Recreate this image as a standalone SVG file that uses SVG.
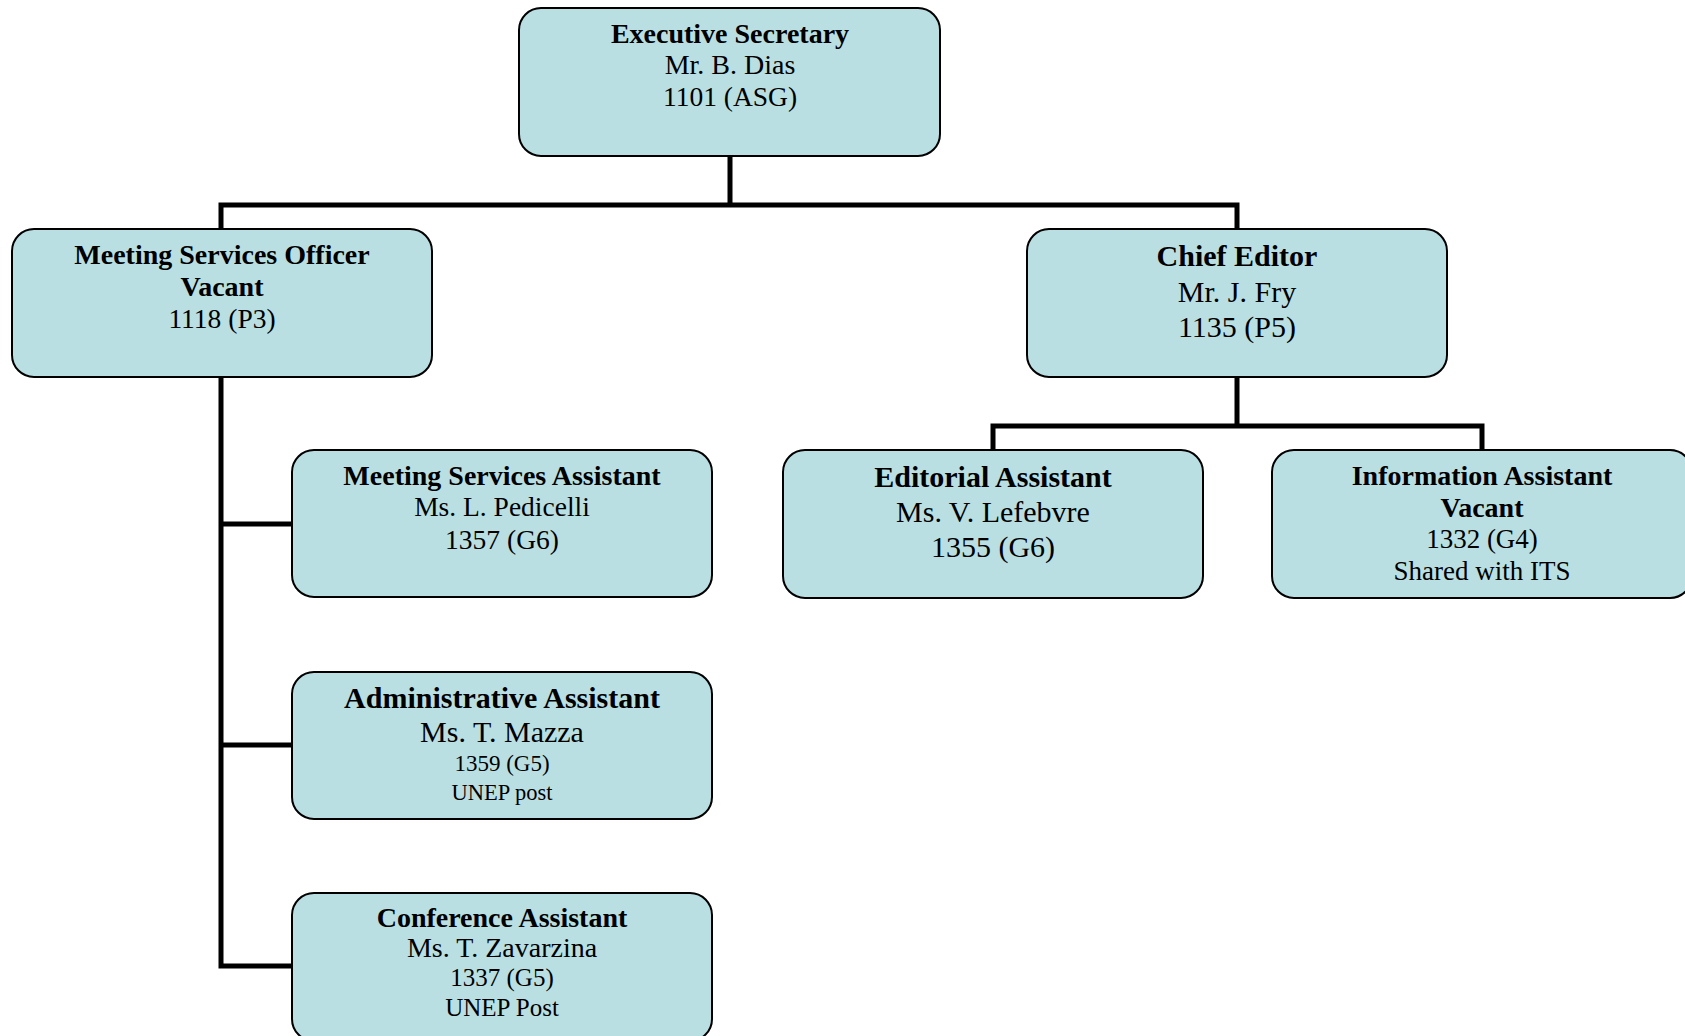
<svg xmlns="http://www.w3.org/2000/svg" width="1685" height="1036" viewBox="0 0 1685 1036">
<style>
.box{fill:#B9DFE3;stroke:#000;stroke-width:2}
.conn{fill:none;stroke:#000;stroke-width:5;stroke-linecap:square}
text{font-family:"Liberation Serif","Times New Roman",serif;fill:#000;text-anchor:middle}
.b{font-weight:bold}
</style>
<rect width="1685" height="1036" fill="#fff"/>
<g id="connectors">
<path class="conn" d="M730 156V205M221 205H1237M221 205V229M1237 205V229"/>
<path class="conn" d="M221 377V966M221 524H292M221 745H292M221 966H292"/>
<path class="conn" d="M1237 377V426M993 426H1482M993 426V450M1482 426V450"/>
</g>
<g id="exec">
<rect class="box" x="519" y="8" width="421" height="148" rx="22"/>
<text x="730" y="43" font-size="28" class="b">Executive Secretary</text>
<text x="730" y="74" font-size="28">Mr. B. Dias</text>
<text x="730" y="106" font-size="27.5">1101 (ASG)</text>
</g>
<g id="mso">
<rect class="box" x="12" y="229" width="420" height="148" rx="22"/>
<text x="222" y="264" font-size="28" class="b">Meeting Services Officer</text>
<text x="222" y="296" font-size="28" class="b">Vacant</text>
<text x="222" y="328" font-size="27.5">1118 (P3)</text>
</g>
<g id="chief">
<rect class="box" x="1027" y="229" width="420" height="148" rx="22"/>
<text x="1237" y="266" font-size="30" class="b">Chief Editor</text>
<text x="1237" y="302" font-size="30">Mr. J. Fry</text>
<text x="1237" y="337" font-size="30">1135 (P5)</text>
</g>
<g id="msa">
<rect class="box" x="292" y="450" width="420" height="147" rx="22"/>
<text x="502" y="485" font-size="28" class="b">Meeting Services Assistant</text>
<text x="502" y="516" font-size="27.5">Ms. L. Pedicelli</text>
<text x="502" y="549" font-size="27.5">1357 (G6)</text>
</g>
<g id="editorial">
<rect class="box" x="783" y="450" width="420" height="148" rx="22"/>
<text x="993" y="487" font-size="30" class="b">Editorial Assistant</text>
<text x="993" y="522" font-size="30">Ms. V. Lefebvre</text>
<text x="993" y="557" font-size="30">1355 (G6)</text>
</g>
<g id="info">
<rect class="box" x="1272" y="450" width="420" height="148" rx="22"/>
<text x="1482" y="485" font-size="28" class="b">Information Assistant</text>
<text x="1482" y="517" font-size="28" class="b">Vacant</text>
<text x="1482" y="548" font-size="27">1332 (G4)</text>
<text x="1482" y="580" font-size="27">Shared with ITS</text>
</g>
<g id="admin">
<rect class="box" x="292" y="672" width="420" height="147" rx="22"/>
<text x="502" y="708" font-size="30" class="b">Administrative Assistant</text>
<text x="502" y="742" font-size="30">Ms. T. Mazza</text>
<text x="502" y="771" font-size="23">1359 (G5)</text>
<text x="502" y="800" font-size="22.5">UNEP post</text>
</g>
<g id="conf">
<rect class="box" x="292" y="893" width="420" height="148" rx="22"/>
<text x="502" y="927" font-size="28" class="b">Conference Assistant</text>
<text x="502" y="957" font-size="28">Ms. T. Zavarzina</text>
<text x="502" y="986" font-size="25">1337 (G5)</text>
<text x="502" y="1016" font-size="25">UNEP Post</text>
</g>
</svg>
